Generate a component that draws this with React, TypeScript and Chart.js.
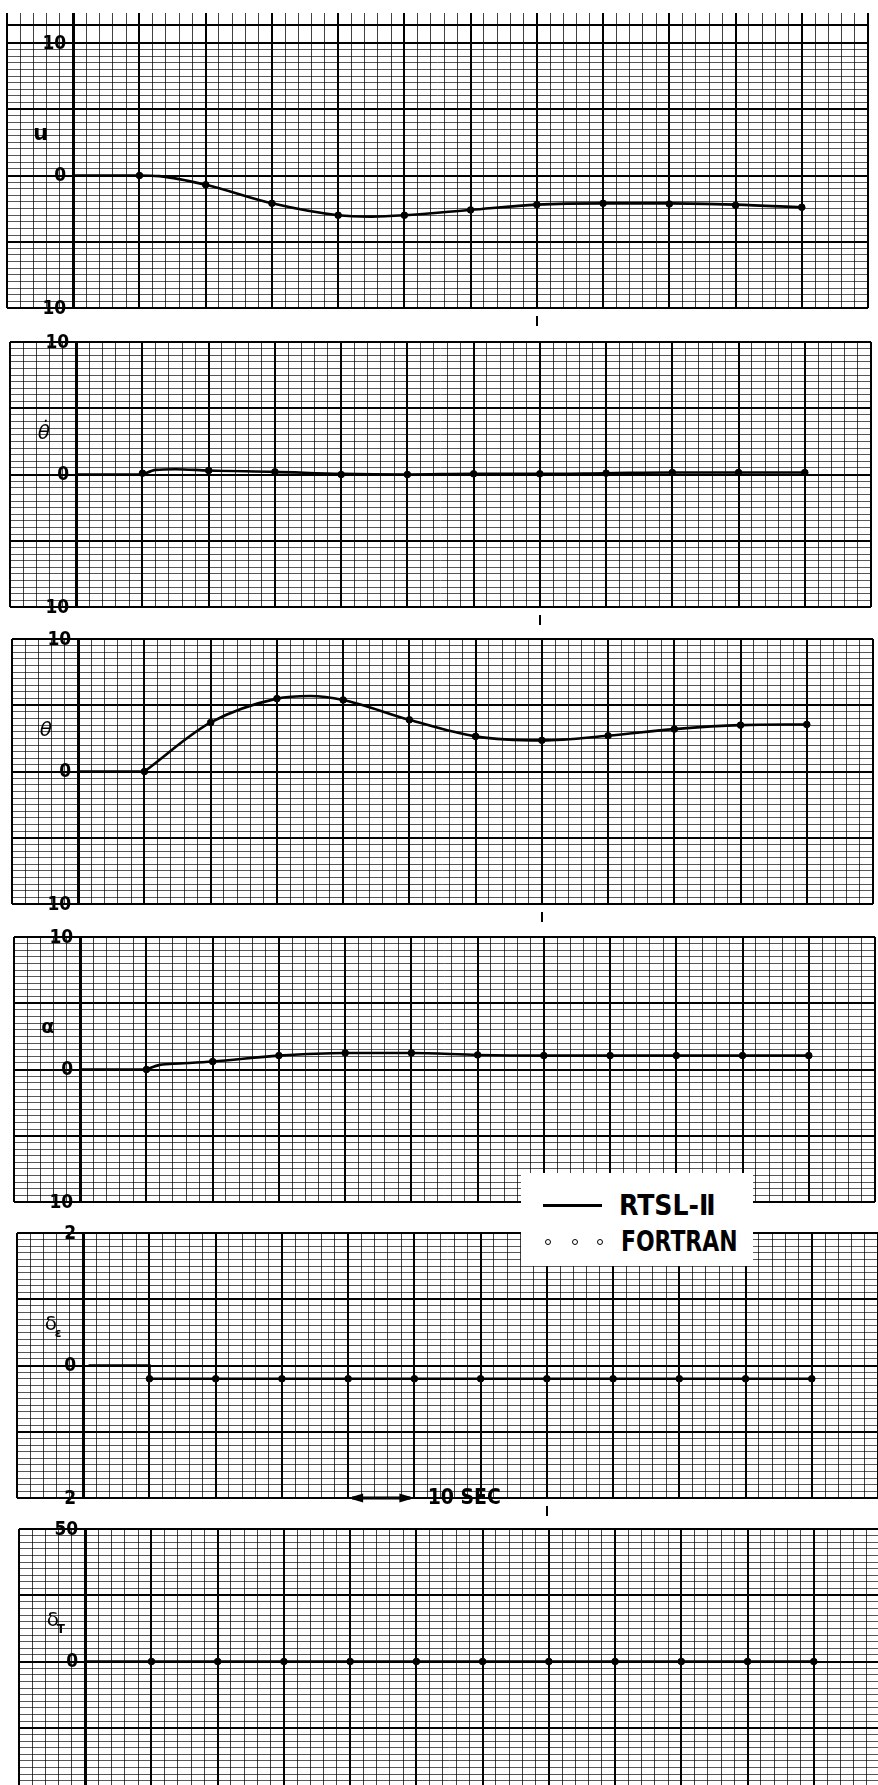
import React, { useEffect, useRef } from "react";
import { Chart, registerables } from "chart.js";
Chart.register(...registerables);

// ---------- data (time in seconds) ----------
const fortranTime = [10, 20, 30, 40, 50, 60, 70, 80, 90, 100, 110];

const uLineTime = [0, 10, 13, 20, 30, 40, 45, 50, 60, 70, 80, 90, 100, 110];
const uLine = [0, 0, -0.05, -0.7, -2.1, -3.0, -3.1, -3.0, -2.6, -2.2, -2.1, -2.1, -2.2, -2.4];
const uFortran = [0, -0.7, -2.1, -3.0, -3.0, -2.6, -2.2, -2.1, -2.15, -2.25, -2.4];

const qLineTime = [0, 10, 10, 10, 12, 15, 20, 30, 40, 50, 60, 70, 80, 90, 100, 110];
const qLine = [0, 0, null, 0, 0.35, 0.4, 0.3, 0.2, 0.05, 0, 0.05, 0.05, 0.1, 0.15, 0.15, 0.15];
const qFortran = [0.1, 0.3, 0.2, 0, 0, 0.05, 0.05, 0.1, 0.15, 0.15, 0.15];

const thetaLineTime = [0, 10, 10, 10, 20, 30, 35, 40, 50, 60, 70, 80, 90, 100, 110];
const thetaLine = [0, 0, null, 0, 3.7, 5.5, 5.7, 5.4, 3.9, 2.65, 2.35, 2.7, 3.2, 3.5, 3.55];
const thetaFortran = [0, 3.7, 5.5, 5.4, 3.9, 2.65, 2.35, 2.7, 3.2, 3.5, 3.55];

const alphaLineTime = [0, 10, 10, 10, 12, 15, 20, 30, 40, 50, 60, 70, 80, 90, 100, 110];
const alphaLine = [0, 0, null, 0, 0.35, 0.45, 0.6, 1.05, 1.25, 1.25, 1.1, 1.05, 1.05, 1.05, 1.05, 1.05];
const alphaFortran = [0, 0.6, 1.05, 1.25, 1.25, 1.1, 1.05, 1.05, 1.05, 1.05, 1.05];

const deLineTime = [0.8, 10, 10, 110];
const deLine = [0, 0, -0.2, -0.2];
const deFortran = [-0.2, -0.2, -0.2, -0.2, -0.2, -0.2, -0.2, -0.2, -0.2, -0.2, -0.2];

const dtLineTime = [0, 110];
const dtLine = [0, 0];
const dtFortran = [0, 0, 0, 0, 0, 0, 0, 0, 0, 0, 0];

// ---------- layout ----------
const CHART_H = 265;
const CANVAS_W = 873;
const PAD_TOP = 10;
const PAD_BOTTOM = 25;

type PanelCfg = {
  key: string;
  lineTime: number[];
  line: (number | null)[];
  fortran: number[];
  min: number;
  max: number;
  minor: number;
  major: number;
  name: string;
  sub?: string;
  nameFont: string;
  top: number;
  shift: number;
  bandPx?: number;
  bandLinePx?: number;
  smooth: boolean;
  timeArrow?: boolean;
};

const panels: PanelCfg[] = [
  { key: "u", lineTime: uLineTime, line: uLine, fortran: uFortran, min: -10, max: 10, minor: 0.5, major: 5,
    name: "u", nameFont: "bold 21px 'DejaVu Sans', sans-serif", top: 43, shift: 0, bandPx: 30, bandLinePx: 18, smooth: true },
  { key: "q", lineTime: qLineTime, line: qLine, fortran: qFortran, min: -10, max: 10, minor: 0.5, major: 5,
    name: "θ\u0307", nameFont: "italic 20px 'DejaVu Sans', sans-serif", top: 342, shift: 3, smooth: true },
  { key: "theta", lineTime: thetaLineTime, line: thetaLine, fortran: thetaFortran, min: -10, max: 10, minor: 0.5, major: 5,
    name: "θ", nameFont: "italic 20px 'DejaVu Sans', sans-serif", top: 639, shift: 5, smooth: true },
  { key: "alpha", lineTime: alphaLineTime, line: alphaLine, fortran: alphaFortran, min: -10, max: 10, minor: 0.5, major: 5,
    name: "α", nameFont: "bold 19px 'DejaVu Sans', sans-serif", top: 937, shift: 7, smooth: true },
  { key: "de", lineTime: deLineTime, line: deLine, fortran: deFortran, min: -2, max: 2, minor: 0.1, major: 1,
    name: "δ", sub: "ε", nameFont: "20px 'DejaVu Sans', sans-serif", top: 1233, shift: 10, smooth: false, timeArrow: true },
  { key: "dt", lineTime: dtLineTime, line: dtLine, fortran: dtFortran, min: -50, max: 50, minor: 2.5, major: 25,
    name: "δ", sub: "T", nameFont: "20px 'DejaVu Sans', sans-serif", top: 1529, shift: 12, smooth: false },
];

const NARROW = "'Liberation Sans Narrow', 'DejaVu Sans Condensed', 'DejaVu Sans', sans-serif";

const isMult = (v: number, m: number) => Math.abs(v / m - Math.round(v / m)) < 1e-6;

function decorPlugin(p: PanelCfg) {
  return {
    id: "decor_" + p.key,
    afterDatasetsDraw(chart: any) {
      const { ctx, chartArea } = chart;
      const x = chart.scales.x;
      const y = chart.scales.y;
      ctx.save();
      ctx.fillStyle = "#000";
      ctx.strokeStyle = "#000";
      // y tick labels
      ctx.font = "bold 19px " + NARROW;
      ctx.textAlign = "right";
      ctx.textBaseline = "middle";
      const ax = x.getPixelForValue(0);
      [p.max, 0, p.min].forEach((v) => {
        ctx.fillText(String(Math.abs(v)), ax - 7, y.getPixelForValue(v) + 1);
      });
      // variable name
      const nx = x.getPixelForValue(-4.9);
      const ny = y.getPixelForValue(p.max * 0.31);
      ctx.font = p.nameFont;
      ctx.textAlign = "center";
      ctx.fillText(p.name, nx, ny);
      if (p.sub) {
        ctx.font = "bold 12px 'DejaVu Sans', sans-serif";
        ctx.textAlign = "left";
        ctx.fillText(p.sub, nx + 4, ny + 9);
      }
      // small mark below the panel
      const mx = Math.round(x.getPixelForValue(70));
      ctx.fillRect(mx - 1, chartArea.bottom + 8, 2, 10);
      // 10 SEC arrow
      if (p.timeArrow) {
        const y0 = y.getPixelForValue(p.min);
        const x1 = x.getPixelForValue(40);
        const x2 = x.getPixelForValue(50);
        ctx.lineWidth = 3;
        ctx.beginPath();
        ctx.moveTo(x1 + 4, y0);
        ctx.lineTo(x2 - 4, y0);
        ctx.stroke();
        ctx.beginPath();
        ctx.moveTo(x1, y0);
        ctx.lineTo(x1 + 15, y0 - 4.5);
        ctx.lineTo(x1 + 15, y0 + 4.5);
        ctx.closePath();
        ctx.fill();
        ctx.beginPath();
        ctx.moveTo(x2, y0);
        ctx.lineTo(x2 - 15, y0 - 4.5);
        ctx.lineTo(x2 - 15, y0 + 4.5);
        ctx.closePath();
        ctx.fill();
        ctx.font = "bold 21px " + NARROW;
        ctx.textAlign = "left";
        ctx.textBaseline = "middle";
        ctx.fillText("10 SEC", x.getPixelForValue(52), y0 + 1);
      }
      ctx.restore();
    },
  };
}

function Panel({ p }: { p: PanelCfg }) {
  const ref = useRef<HTMLCanvasElement>(null);
  const bandPx = p.bandPx || 0;
  const unitsPerPx = (p.max - p.min) / CHART_H;
  const bandUnits = bandPx * unitsPerPx;
  const bandLineVal = p.bandLinePx ? p.max + p.bandLinePx * unitsPerPx : null;
  const canvasTop = p.top - PAD_TOP - bandPx;
  const canvasH = PAD_TOP + bandPx + CHART_H + PAD_BOTTOM;

  useEffect(() => {
    if (!ref.current) return;
    const lineData = p.lineTime.map((t, i) => ({ x: t, y: p.line[i] }));
    const ptData = fortranTime.map((t, i) => ({ x: t, y: p.fortran[i] }));
    const chart = new Chart(ref.current, {
      type: "line",
      data: {
        datasets: [
          {
            label: "FORTRAN",
            data: ptData,
            showLine: false,
            pointRadius: 3.3,
            pointBackgroundColor: "#000",
            pointBorderColor: "#000",
            pointBorderWidth: 1,
            order: 0,
          } as any,
          {
            label: "RTSL-II",
            data: lineData,
            borderColor: "#000",
            borderWidth: 2.6,
            pointRadius: 0,
            spanGaps: false,
            cubicInterpolationMode: p.smooth ? "monotone" : "default",
            tension: 0,
            order: 1,
          } as any,
        ],
      },
      options: {
        animation: false,
        responsive: false,
        maintainAspectRatio: false,
        devicePixelRatio: 1,
        events: [],
        layout: { padding: { left: 7, right: 1, top: PAD_TOP, bottom: PAD_BOTTOM } },
        plugins: { legend: { display: false }, tooltip: { enabled: false } },
        scales: {
          x: {
            type: "linear",
            min: -10,
            max: 120,
            ticks: { display: false, stepSize: 2, maxTicksLimit: 1000 },
            border: { display: false },
            grid: {
              drawTicks: false,
              color: (c: any) => {
                const v = c.tick.value;
                return isMult(v, 10) ? "#000" : "rgba(0,0,0,0.74)";
              },
              lineWidth: (c: any) => {
                const v = c.tick.value;
                if (Math.abs(v) < 1e-6) return 3;
                return isMult(v, 10) ? 2 : 1;
              },
            },
          },
          y: {
            type: "linear",
            min: p.min,
            max: p.max + bandUnits,
            ticks: { display: false, stepSize: p.minor, maxTicksLimit: 1000 },
            border: { display: false },
            afterBuildTicks: (s: any) => {
              if (bandUnits > 0) {
                s.ticks = s.ticks.filter((t: any) => t.value <= p.max + 1e-6);
                if (bandLineVal !== null) s.ticks.push({ value: bandLineVal });
              }
            },
            grid: {
              drawTicks: false,
              color: (c: any) => {
                const v = c.tick.value;
                if (bandLineVal !== null && Math.abs(v - bandLineVal) < 1e-6) return "#000";
                if (v > p.max + 1e-6) return "rgba(0,0,0,0)";
                return isMult(v, p.major) ? "#000" : "rgba(0,0,0,0.66)";
              },
              lineWidth: (c: any) => {
                const v = c.tick.value;
                if (bandLineVal !== null && Math.abs(v - bandLineVal) < 1e-6) return 2;
                return isMult(v, p.major) ? 2 : 1;
              },
            },
          },
        },
      } as any,
      plugins: [decorPlugin(p) as any],
    });
    return () => chart.destroy();
  }, []);

  return (
    <canvas
      ref={ref}
      width={CANVAS_W}
      height={canvasH}
      style={{ position: "absolute", left: p.shift, top: canvasTop, width: CANVAS_W, height: canvasH }}
    />
  );
}

function Legend() {
  const font = { fontFamily: NARROW, fontWeight: 700 as const, fontSize: 28, lineHeight: "28px" };
  const circle = (left: number) => (
    <div
      style={{
        position: "absolute",
        left: left - 3.5,
        top: 1242 - 3.5,
        width: 4,
        height: 4,
        border: "1.5px solid #000",
        borderRadius: "50%",
        background: "#fff",
      }}
    />
  );
  return (
    <>
      <div style={{ position: "absolute", left: 521, top: 1173, width: 232, height: 93, background: "#fff" }} />
      <div style={{ position: "absolute", left: 543, top: 1204, width: 59, height: 2.5, background: "#000" }} />
      <div style={{ position: "absolute", left: 619, top: 1192, whiteSpace: "nowrap", color: "#000", ...font }}>RTSL-Ⅱ</div>
      {circle(548)}
      {circle(575)}
      {circle(600)}
      <div
        style={{
          position: "absolute",
          left: 621,
          top: 1228,
          whiteSpace: "nowrap",
          color: "#000",
          transform: "scaleX(0.87)",
          transformOrigin: "left center",
          ...font,
        }}
      >
        FORTRAN
      </div>
    </>
  );
}

export default function App() {
  return (
    <div
      style={{
        position: "absolute",
        left: 0,
        top: 0,
        width: 878,
        height: 1785,
        overflow: "hidden",
        background: "#fff",
      }}
    >
      {panels.map((p) => (
        <Panel key={p.key} p={p} />
      ))}
      <Legend />
    </div>
  );
}
